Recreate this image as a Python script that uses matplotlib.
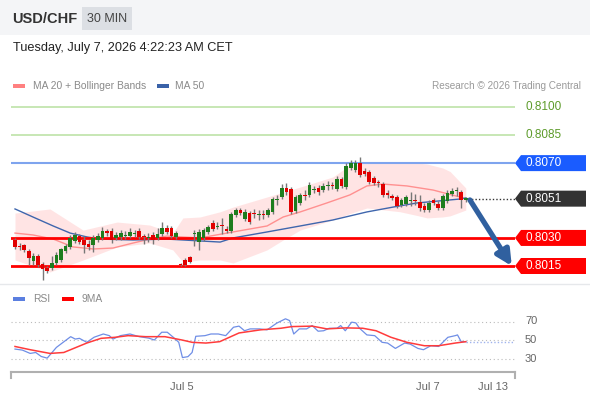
import matplotlib
matplotlib.use("Agg")
import matplotlib.pyplot as plt
from matplotlib.patches import Rectangle, Polygon
from matplotlib.lines import Line2D
import matplotlib.transforms as mtransforms
import numpy as np

plt.rcParams['font.family'] = ['Liberation Sans', 'DejaVu Sans']

# USD/CHF 30 min candles
opens = [0.80289, 0.80257, 0.80262, 0.80230, 0.80177, 0.80203, 0.80161, 0.80139, 0.80139, 0.80166,
         0.80182, 0.80230, 0.80252, 0.80284, 0.80310, 0.80289, 0.80268, 0.80262, 0.80289, 0.80300,
         0.80337, 0.80337, 0.80300, 0.80305, 0.80310, 0.80310, 0.80321, 0.80337, 0.80310, 0.80300,
         0.80316, 0.80300, 0.80321, 0.80353, 0.80353, 0.80305, 0.80161, 0.80182, 0.80198, 0.80321,
         0.80278, 0.80300, 0.80332, 0.80380, 0.80359, 0.80369, 0.80348, 0.80337, 0.80423, 0.80449,
         0.80401, 0.80433, 0.80433, 0.80423, 0.80428, 0.80423, 0.80439, 0.80503, 0.80519, 0.80567,
         0.80562, 0.80444, 0.80487, 0.80530, 0.80530, 0.80556, 0.80567, 0.80556, 0.80578, 0.80583,
         0.80562, 0.80615, 0.80572, 0.80674, 0.80663, 0.80701, 0.80658, 0.80653, 0.80620, 0.80599,
         0.80588, 0.80540, 0.80524, 0.80519, 0.80476, 0.80481, 0.80497, 0.80503, 0.80492, 0.80471,
         0.80449, 0.80503, 0.80481, 0.80460, 0.80497, 0.80535, 0.80551, 0.80546, 0.80503]
closes = [0.80252, 0.80252, 0.80236, 0.80193, 0.80203, 0.80155, 0.80134, 0.80123, 0.80166, 0.80209,
          0.80241, 0.80257, 0.80300, 0.80316, 0.80278, 0.80262, 0.80252, 0.80300, 0.80310, 0.80337,
          0.80326, 0.80289, 0.80316, 0.80326, 0.80316, 0.80332, 0.80326, 0.80305, 0.80305, 0.80305,
          0.80289, 0.80321, 0.80353, 0.80332, 0.80310, 0.80326, 0.80155, 0.80155, 0.80171, 0.80326,
          0.80332, 0.80342, 0.80359, 0.80348, 0.80364, 0.80364, 0.80337, 0.80428, 0.80449, 0.80433,
          0.80439, 0.80385, 0.80428, 0.80428, 0.80423, 0.80449, 0.80508, 0.80508, 0.80567, 0.80546,
          0.80439, 0.80519, 0.80530, 0.80524, 0.80583, 0.80562, 0.80546, 0.80578, 0.80583, 0.80578,
          0.80615, 0.80578, 0.80685, 0.80701, 0.80701, 0.80636, 0.80642, 0.80599, 0.80594, 0.80594,
          0.80530, 0.80530, 0.80514, 0.80471, 0.80503, 0.80519, 0.80503, 0.80497, 0.80460, 0.80449,
          0.80487, 0.80487, 0.80460, 0.80524, 0.80540, 0.80551, 0.80556, 0.80503, 0.80514]
highs = [0.80300, 0.80273, 0.80268, 0.80241, 0.80219, 0.80214, 0.80171, 0.80150, 0.80203, 0.80225,
         0.80246, 0.80268, 0.80316, 0.80332, 0.80321, 0.80310, 0.80289, 0.80316, 0.80326, 0.80359,
         0.80348, 0.80353, 0.80332, 0.80342, 0.80337, 0.80353, 0.80342, 0.80353, 0.80321, 0.80326,
         0.80332, 0.80353, 0.80385, 0.80369, 0.80364, 0.80337, 0.80166, 0.80193, 0.80203, 0.80342,
         0.80348, 0.80353, 0.80369, 0.80396, 0.80385, 0.80407, 0.80364, 0.80439, 0.80460, 0.80460,
         0.80455, 0.80444, 0.80455, 0.80449, 0.80449, 0.80460, 0.80519, 0.80530, 0.80588, 0.80594,
         0.80572, 0.80530, 0.80540, 0.80556, 0.80599, 0.80578, 0.80583, 0.80594, 0.80604, 0.80599,
         0.80631, 0.80626, 0.80701, 0.80717, 0.80717, 0.80733, 0.80674, 0.80663, 0.80631, 0.80610,
         0.80599, 0.80556, 0.80535, 0.80530, 0.80514, 0.80530, 0.80546, 0.80535, 0.80530, 0.80487,
         0.80503, 0.80514, 0.80497, 0.80535, 0.80556, 0.80567, 0.80572, 0.80556, 0.80519]
lows = [0.80241, 0.80236, 0.80225, 0.80155, 0.80155, 0.80145, 0.80075, 0.80113, 0.80129, 0.80155,
        0.80171, 0.80219, 0.80241, 0.80273, 0.80268, 0.80219, 0.80236, 0.80225, 0.80278, 0.80289,
        0.80310, 0.80273, 0.80289, 0.80289, 0.80294, 0.80300, 0.80305, 0.80294, 0.80268, 0.80278,
        0.80268, 0.80289, 0.80310, 0.80321, 0.80300, 0.80294, 0.80150, 0.80150, 0.80166, 0.80257,
        0.80236, 0.80284, 0.80321, 0.80337, 0.80348, 0.80321, 0.80326, 0.80326, 0.80412, 0.80423,
        0.80391, 0.80375, 0.80407, 0.80396, 0.80401, 0.80412, 0.80428, 0.80476, 0.80508, 0.80530,
        0.80428, 0.80433, 0.80476, 0.80503, 0.80519, 0.80540, 0.80530, 0.80546, 0.80556, 0.80562,
        0.80551, 0.80567, 0.80562, 0.80663, 0.80653, 0.80626, 0.80631, 0.80588, 0.80583, 0.80572,
        0.80519, 0.80514, 0.80503, 0.80460, 0.80465, 0.80471, 0.80471, 0.80476, 0.80444, 0.80439,
        0.80439, 0.80476, 0.80449, 0.80449, 0.80487, 0.80524, 0.80524, 0.80460, 0.80492]

# moving averages and bands, sampled along the bar index
ma50_idx = [0, 3.9, 8.3, 12, 15.7, 18.5, 25.7, 33, 40.2, 44.6, 47.4, 54.8, 62, 69.1, 76.5, 82.2, 87.4, 96.7, 98]
ma50_val = [0.80455, 0.80412, 0.80364, 0.80326, 0.80305, 0.80294, 0.80289, 0.80294, 0.80284, 0.80278,
            0.80300, 0.80332, 0.80364, 0.80396, 0.80439, 0.80465, 0.80487, 0.80508, 0.80514]
ma20_idx = [0, 3.9, 8.3, 12.6, 17, 21.3, 25.7, 29.3, 33, 36.5, 40.2, 47.4, 54.8, 58.3, 62, 67.8, 72.8,
            76.5, 80, 85.2, 90.9, 96.7, 98]
ma20_val = [0.80326, 0.80316, 0.80294, 0.80252, 0.80241, 0.80246, 0.80273, 0.80294, 0.80310, 0.80305,
            0.80300, 0.80332, 0.80364, 0.80412, 0.80439, 0.80487, 0.80530, 0.80578, 0.80588, 0.80578,
            0.80556, 0.80519, 0.80508]
band_idx = [0, 7.6, 14.8, 22.2, 29.3, 34.3, 36.5, 40.2, 44.6, 47.4, 54.8, 58.3, 62, 69.1, 72.8, 76.5,
            83.7, 87.4, 89.6, 93, 94.6, 98]
band_up = [0.80433, 0.80455, 0.80342, 0.80385, 0.80369, 0.80326, 0.80407, 0.80412, 0.80440, 0.80465,
           0.80519, 0.80545, 0.80572, 0.80626, 0.80690, 0.80701, 0.80701, 0.80701, 0.80695, 0.80674,
           0.80655, 0.80567]
band_lo = [0.80182, 0.80118, 0.80182, 0.80252, 0.80273, 0.80236, 0.80171, 0.80182, 0.80182, 0.80166,
           0.80236, 0.80289, 0.80342, 0.80396, 0.80430, 0.80460, 0.80440, 0.80420, 0.80407, 0.80412,
           0.80418, 0.80449]

# key levels
levels_green = [0.8100, 0.8085]
level_blue = 0.8070
last_price = 0.8051
levels_red = [0.8030, 0.8015]
arrow_from = (98.9, 0.80503)
arrow_to = (108.0, 0.80150)

# RSI panel
rsi_idx = [0, 1.6, 3.3, 4.5, 5.7, 7.0, 9.0, 10.6, 12.1, 13.1, 14.0, 15.6, 17.2, 19.2, 20.5, 21.3, 22.9,
           25.0, 27.0, 29.1, 30.3, 31.9, 33.1, 34.4, 35.6, 36.4, 37.6, 38.5, 39.3, 41.3, 42.6, 44.2,
           45.8, 47.5, 48.7, 49.9, 51.1, 53.2, 54.8, 56.9, 58.8, 59.7, 60.6, 61.8, 63.4, 64.6, 65.9,
           67.1, 68.3, 70.0, 70.8, 71.8, 73.2, 74.1, 74.9, 76.5, 78.2, 79.8, 81.0, 82.7, 84.7, 85.9,
           87.6, 88.8, 90.4, 92.1, 94.1, 95.7, 96.2, 97.0, 98.0]
rsi_val = [40.2, 39.1, 35.5, 36.5, 32.2, 30.4, 42.0, 48.0, 53.6, 51.0, 51.8, 47.5, 53.0, 56.5, 54.7,
           51.0, 54.7, 56.5, 53.6, 52.0, 50.0, 58.4, 58.4, 53.0, 47.5, 31.0, 32.0, 36.5, 54.0, 54.7,
           56.5, 56.5, 54.7, 63.8, 65.0, 60.0, 62.0, 62.0, 61.0, 68.2, 72.9, 71.0, 56.5, 62.0, 62.0,
           65.6, 59.5, 60.0, 62.7, 62.7, 65.6, 60.0, 69.3, 68.5, 62.7, 55.5, 54.7, 47.5, 46.7, 40.9,
           46.7, 45.6, 40.9, 39.5, 43.8, 43.0, 52.9, 54.7, 55.5, 48.2, 48.2]
ma9_idx = [0, 3.3, 7.6, 10.6, 15.6, 18.7, 21.7, 24.6, 28.4, 32.6, 36.3, 38.5, 41.5, 44.5, 48.7, 53.4,
           57.8, 60.2, 64.6, 67.8, 71.9, 75.6, 78.5, 81.7, 85.2, 89.0, 92.1, 95.7, 98.0]
ma9_val = [43.0, 39.5, 35.5, 36.5, 46.7, 51.8, 52.9, 54.7, 53.6, 53.6, 50.0, 47.5, 46.7, 48.2, 57.6,
           61.0, 62.7, 64.5, 65.0, 62.0, 63.1, 62.7, 60.0, 53.0, 47.5, 43.8, 43.8, 46.7, 48.2]
rsi_grid = [70, 50, 30]

date_pos = [36.3, 89.8, 103.9]
date_labels = ["Jul 5", "Jul 7", "Jul 13"]

W, H = 590, 400
fig = plt.figure(figsize=(W / 100, H / 100), dpi=100)
fig.patch.set_facecolor("white")

def fx(px):
    return px / W

def fy(py):
    return 1 - py / H

# header bar
fig.patches.append(Rectangle((0, fy(35)), 1, 35 / H, transform=fig.transFigure,
                             facecolor="#f4f5f7", edgecolor="none", zorder=0))
fig.patches.append(Rectangle((fx(82), fy(30)), fx(50), 23 / H, transform=fig.transFigure,
                             facecolor="#dcdfe4", edgecolor="none", zorder=1))
fig.text(fx(12), fy(19), "USD/CHF", fontsize=10.5, fontweight="bold", color="#333333", va="center")
fig.text(fx(107), fy(19), "30 MIN", fontsize=9, color="#444444", va="center", ha="center")
fig.text(fx(13), fy(48), "Tuesday, July 7, 2026 4:22:23 AM CET", fontsize=9.2, color="#222222", va="center")

# legends
fig.patches.append(Rectangle((fx(13), fy(88)), fx(12), 4 / H, transform=fig.transFigure,
                             facecolor="#ff8080", edgecolor="none"))
fig.text(fx(33), fy(86), "MA 20 + Bollinger Bands", fontsize=7.4, color="#8a8a8a", va="center")
fig.patches.append(Rectangle((fx(157), fy(88)), fx(12), 4 / H, transform=fig.transFigure,
                             facecolor="#3a62a8", edgecolor="none"))
fig.text(fx(175), fy(86), "MA 50", fontsize=7.4, color="#8a8a8a", va="center")
fig.text(fx(581), fy(86), "Research \u00a9 2026 Trading Central", fontsize=7.2, color="#9a9a9a",
         va="center", ha="right")

fig.patches.append(Rectangle((fx(13), fy(301)), fx(12), 4 / H, transform=fig.transFigure,
                             facecolor="#5b7fe0", edgecolor="none"))
fig.text(fx(33), fy(299), "RSI", fontsize=7.4, color="#8a8a8a", va="center")
fig.patches.append(Rectangle((fx(62), fy(301)), fx(12), 4 / H, transform=fig.transFigure,
                             facecolor="#ff0000", edgecolor="none"))
fig.text(fx(82), fy(299), "9MA", fontsize=7.4, color="#8a8a8a", va="center")

# panel separator
fig.lines.append(Line2D([0, 1], [fy(284), fy(284)], transform=fig.transFigure, color="#e6e8eb", lw=1))

px_per_price = 18706.0
xl = (-0.87, 108.7)

# main price axes
ax = fig.add_axes([fx(11), fy(284), fx(504), (284 - 90) / H])
ax.set_xlim(*xl)
ax.set_ylim(0.8100 - 177 / px_per_price, 0.8100 + 17 / px_per_price)
ax.axis("off")

idx = np.arange(len(opens))
o = np.array(opens)
c = np.array(closes)

ax.fill_between(band_idx, band_lo, band_up, color="#ffdcdc", alpha=0.75, lw=0, zorder=1)
ax.plot(ma20_idx, ma20_val, color="#ff9090", lw=1, zorder=2)
ax.plot(ma50_idx, ma50_val, color="#3f66ad", lw=1, zorder=2)

for lv in levels_green:
    ax.axhline(lv, color="#bde3a8", lw=1.2, zorder=1)
ax.axhline(level_blue, color="#7ea4ee", lw=1.5, zorder=1)
for lv in levels_red:
    ax.axhline(lv, color="#ff0000", lw=2, zorder=3)
ax.plot([idx[-1] + 0.5, xl[1]], [last_price, last_price], color="#333333", lw=1, ls=(0, (1, 1.5)), zorder=3)

ax.vlines(idx, lows, highs, color="#777777", lw=1, zorder=4)
cols = np.where(c >= o, "#1e7d1e", "#e10000")
body = np.where(np.abs(c - o) < 0.00004, 0.00004, c - o)
bot = np.where(np.abs(c - o) < 0.00004, (o + c) / 2 - 0.00002, o)
ax.bar(idx, body, bottom=bot, width=0.8, color=cols, edgecolor="none", zorder=5)

ax.annotate("", xy=arrow_to, xytext=arrow_from,
            arrowprops=dict(arrowstyle="-|>,head_length=0.9,head_width=0.45", color="#30609f", lw=3.8,
                            shrinkA=0, shrinkB=0), zorder=6)

# right side price tags
trans = mtransforms.blended_transform_factory(ax.transAxes, ax.transData)
hh = 8 / px_per_price
x0 = 1.0
x1 = 1 + 6 / 504
x2 = 1 + 71 / 504
for lv in levels_green:
    ax.text(1 + 10 / 504, lv, "%.4f" % lv, transform=trans, color="#5d9b2a", fontsize=8.5, va="center")
tags = [(level_blue, "#1a5cff"), (last_price, "#333333")] + [(lv, "#ff0000") for lv in levels_red]
for lv, colr in tags:
    poly = Polygon([[x0, lv], [x1, lv + hh], [x2, lv + hh], [x2, lv - hh], [x1, lv - hh]],
                   closed=True, transform=trans, facecolor=colr, edgecolor="none", clip_on=False)
    ax.add_patch(poly)
    ax.text(1 + 10 / 504, lv, "%.4f" % lv, transform=trans, color="white", fontsize=8.5, va="center")

# RSI axes
rsi_px = 0.925
ax2 = fig.add_axes([fx(11), fy(372), fx(504), (372 - 305) / H])
ax2.set_xlim(*xl)
ax2.set_ylim(50 - 32 / rsi_px, 50 + 35 / rsi_px)
for s in ["top", "left", "right"]:
    ax2.spines[s].set_visible(False)
ax2.spines["bottom"].set_color("#b0b0b0")
ax2.spines["bottom"].set_linewidth(1.5)
ax2.set_yticks([])
ax2.set_xticks(date_pos)
ax2.set_xticklabels(date_labels, fontsize=8, color="#666666")
ax2.tick_params(axis="x", length=0, pad=7)
for gv in rsi_grid:
    ax2.axhline(gv, color="#bbbbbb", lw=0.8, ls=(0, (1, 2.5)))
    ax2.text(1 + 10 / 504, gv, str(gv), transform=mtransforms.blended_transform_factory(ax2.transAxes, ax2.transData),
             fontsize=8, color="#666666", va="center")
for xe in [0, 1]:
    ax2.plot([xe, xe], [0, -0.09], transform=ax2.transAxes, color="#b0b0b0", lw=1.5, clip_on=False)

ax2.plot(rsi_idx, rsi_val, color="#6f8ee6", lw=0.9, zorder=3)
ax2.plot(ma9_idx, ma9_val, color="#ff3b3b", lw=1.1, zorder=3)
ax2.plot([rsi_idx[-1], xl[1]], [rsi_val[-1], rsi_val[-1]], color="#9fb3ee", lw=1, ls=(0, (1, 1.5)), zorder=2)

fig.savefig("out.png", dpi=100)
